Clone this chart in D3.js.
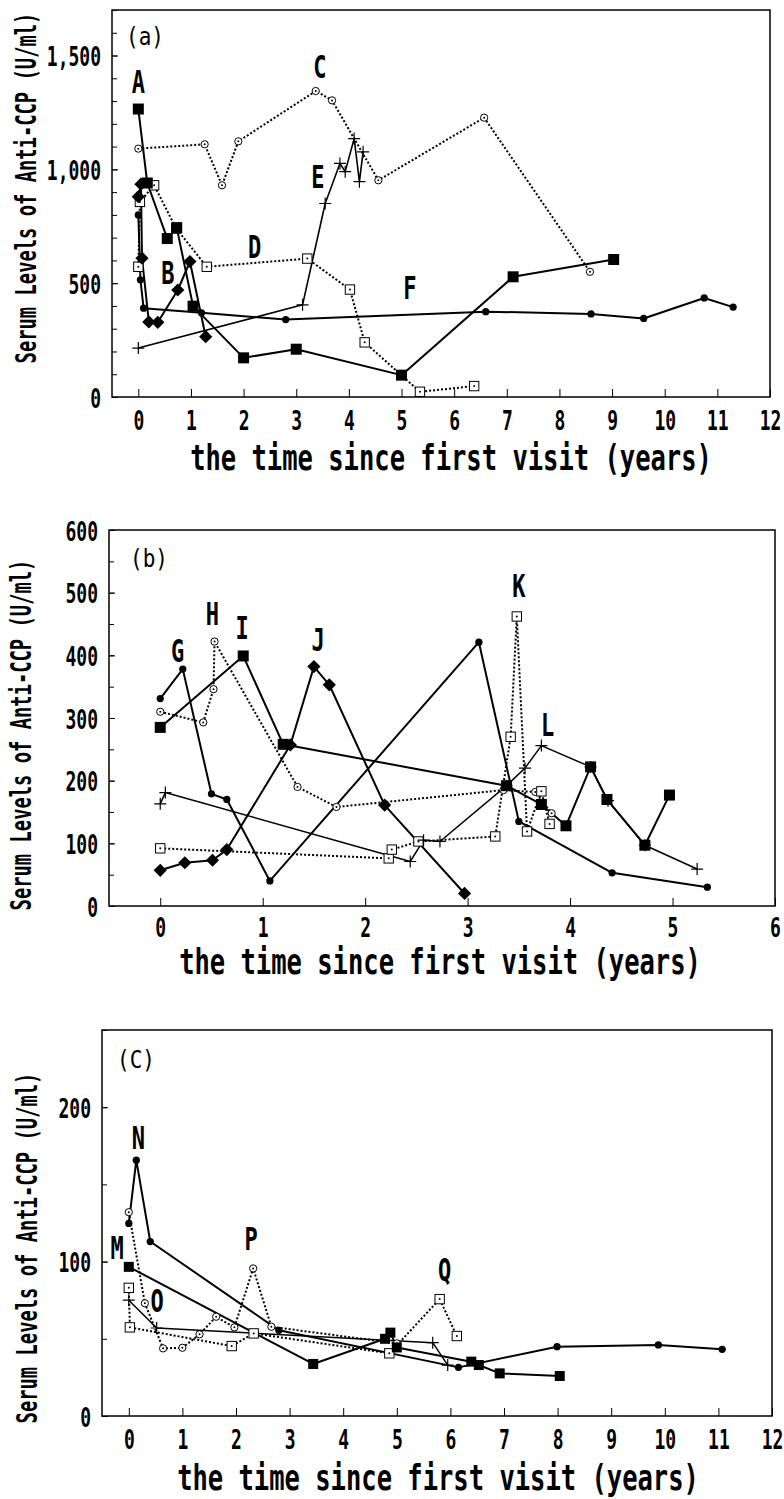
<!DOCTYPE html>
<html>
<head>
<meta charset="utf-8">
<script src="https://cdn.jsdelivr.net/npm/d3@7"></script>
<style>
body { margin: 0; background: #fff; }
</style>
</head>
<body>
<svg id="chart" width="784" height="1499"></svg>
<script>
// ---- panel (a) : [years, U/ml]
const A = [[0,1265],[0.17,940],[0.55,696],[0.73,744],[1.04,399],[2.0,172],[3.0,210],[5.0,96],[7.12,528],[9.03,604]];
const B = [[0,880],[0.05,935],[0.07,610],[0.2,330],[0.37,328],[0.75,470],[0.98,595],[1.28,265]];
const C = [[0,1091],[1.26,1110],[1.59,930],[1.9,1123],[3.37,1344],[3.68,1303],[4.56,952],[6.57,1227],[8.58,550]];
const D = [[0,572],[0.03,857],[0.3,930],[0.72,740],[1.3,572],[3.21,608],[4.02,472],[4.3,240],[5.35,23],[6.38,48]];
const E = [[0,215],[3.12,405],[3.55,850],[3.83,1026],[3.93,990],[4.1,1135],[4.2,946],[4.27,1077]];
const F = [[0,800],[0.04,515],[0.1,390],[1.2,370],[2.8,340],[6.6,375],[8.6,365],[9.6,345],[10.75,435],[11.3,395]];

// ---- panel (b)
const G = [[0,331],[0.22,378],[0.5,179],[0.65,170],[1.07,40],[3.11,421],[3.5,135],[4.41,53],[5.34,30]];
const H = [[0,310],[0.42,293],[0.52,346],[0.53,422],[1.34,190],[1.72,158],[3.35,185],[3.66,182],[3.82,148]];
const I = [[0,285],[0.81,399],[1.2,258],[3.38,192],[3.72,162],[3.96,128],[4.2,222],[4.36,170],[4.73,97],[4.97,177]];
const J = [[0,57],[0.24,69],[0.51,73],[0.65,90],[1.27,257],[1.5,382],[1.65,353],[2.19,161],[2.97,20]];
const K = [[0,92],[2.23,76],[2.26,90],[2.52,103],[3.27,111],[3.42,270],[3.48,462],[3.58,119],[3.72,183],[3.8,131]];
const L = [[0,163],[0.05,181],[2.44,71],[2.57,105],[2.73,103],[3.38,192],[3.56,220],[3.72,256],[4.2,222],[4.37,168],[4.73,97],[5.24,59]];

// ---- panel (c)
const M = [[0,96.6],[3.44,33.7],[4.78,50],[4.88,54],[5.0,44.4],[6.39,35.2],[6.53,33],[6.92,27.6],[8.04,25.9]];
const N = [[0,124.7],[0.14,165.7],[0.4,113],[2.8,55.5],[6.15,31.5],[7.99,44.9],[9.88,46],[11.07,43.2]];
const O = [[0,75],[0.52,57],[5.67,47.5],[5.95,33]];
const P = [[0,132],[0.3,73],[0.64,43.8],[1.0,44.2],[1.32,52.9],[1.63,64.3],[1.97,57.4],[2.32,95.6],[2.66,57.8],[5.0,47]];
const Q = [[0,83],[0.02,57.4],[1.92,45.3],[2.33,53.5],[4.86,40.6],[5.8,75.7],[6.12,51.8]];

// axis ticks
const xTicksLong = [0,1,2,3,4,5,6,7,8,9,10,11,12];
const xTicksShort = [0,1,2,3,4,5,6];
const yTicksA = [0,500,1000,1500];
const yTicksB = [0,100,200,300,400,500,600];
const yTicksC = [0,100,200];

// curve labels [letter, years, U/ml]
const labelsA = [["A",0,1384],["C",3.45,1450],["E",3.41,967],["D",2.21,659],["B",0.56,549],["F",5.16,483]];
const labelsB = [["G",0.17,408],["H",0.51,466],["I",0.8,445],["J",1.54,426],["K",3.5,511],["L",3.78,290]];
const labelsC = [["N",0.18,180.6],["M",-0.22,109.4],["O",0.53,75],["P",2.28,115],["Q",5.89,95]];

const FONT = "'DejaVu Sans Mono', 'Liberation Mono', monospace";
const svg = d3.select("#chart");

function stretched(g, x, y, str, size, sy, anchor, weight, rot) {
	return g.append("text")
		.attr("transform", "translate(" + x + "," + y + ")" + (rot ? " rotate(-90)" : "") + " scale(1," + sy + ")")
		.attr("text-anchor", anchor)
		.attr("font-family", FONT)
		.attr("font-weight", weight)
		.attr("font-size", size)
		.attr("fill", "#000")
		.text(str);
}

function marker(g, type, cx, cy, s) {
	if (type == "square") {
		g.append("rect").attr("x", cx-s/2).attr("y", cy-s/2).attr("width", s).attr("height", s).attr("fill", "#000");
	} else if (type == "diamond") {
		const h = s*0.6;
		g.append("path").attr("d", `M${cx},${cy-h}L${cx+h},${cy}L${cx},${cy+h}L${cx-h},${cy}Z`).attr("fill", "#000");
	} else if (type == "dot") {
		g.append("circle").attr("cx", cx).attr("cy", cy).attr("r", s*0.33).attr("fill", "#000");
	} else if (type == "ocircle") {
		g.append("circle").attr("cx", cx).attr("cy", cy).attr("r", s*0.33).attr("fill", "#fff").attr("stroke", "#000").attr("stroke-width", 1);
		g.append("circle").attr("cx", cx).attr("cy", cy).attr("r", 1).attr("fill", "#000");
	} else if (type == "osquare") {
		const q = s*0.78;
		g.append("rect").attr("x", cx-q/2).attr("y", cy-q/2).attr("width", q).attr("height", q).attr("fill", "#fff").attr("stroke", "#000").attr("stroke-width", 1);
		g.append("circle").attr("cx", cx).attr("cy", cy).attr("r", 1).attr("fill", "#000");
	} else if (type == "plus") {
		const h = s*0.5;
		g.append("path").attr("d", `M${cx-h},${cy}H${cx+h}M${cx},${cy-h}V${cy+h}`).attr("stroke", "#000").attr("stroke-width", 1.2).attr("fill", "none");
	}
}

function drawPanel(cfg) {
	const x = d3.scaleLinear().domain(cfg.xDomain).range([cfg.left, cfg.right]);
	const y = d3.scaleLinear().domain(cfg.yDomain).range([cfg.bottom, cfg.top]);
	const g = svg.append("g");

	// minor y ticks
	g.append("g")
		.attr("transform", "translate(" + cfg.left + ",0)")
		.call(d3.axisLeft(y).tickValues(d3.range(0, cfg.yDomain[1] + 1e-9, cfg.yMinor)).tickSize(-5).tickFormat(""))
		.call(a => a.select(".domain").remove())
		.selectAll("line").attr("stroke-width", 1);

	// y axis with labels
	const ya = g.append("g")
		.attr("transform", "translate(" + cfg.left + ",0)")
		.call(d3.axisLeft(y).tickValues(cfg.yTicks).tickSize(-6).tickFormat(d3.format(",")))
		.call(a => a.select(".domain").remove());
	ya.selectAll("text")
		.attr("x", null).attr("dy", null)
		.attr("transform", "translate(-11,10) scale(1,1.5)")
		.attr("text-anchor", "end")
		.attr("font-family", FONT).attr("font-weight", "bold").attr("font-size", 18);

	// x axis with labels
	const xa = g.append("g")
		.attr("transform", "translate(0," + cfg.bottom + ")")
		.call(d3.axisBottom(x).tickValues(cfg.xTicks).tickSize(-8).tickFormat(d3.format("d")))
		.call(a => a.select(".domain").remove());
	xa.selectAll("text")
		.attr("y", null).attr("dy", null)
		.attr("transform", "translate(0," + cfg.xTickOff + ") scale(1,1.5)")
		.attr("font-family", FONT).attr("font-weight", "bold").attr("font-size", 18);

	// frame
	g.append("rect")
		.attr("x", cfg.left).attr("y", cfg.top)
		.attr("width", cfg.right - cfg.left).attr("height", cfg.bottom - cfg.top)
		.attr("fill", "none").attr("stroke", "#000").attr("stroke-width", 1.5);

	const line = d3.line().x(d => x(d[0])).y(d => y(d[1]));
	cfg.series.forEach(s => {
		g.append("path")
			.attr("d", line(s.data))
			.attr("fill", "none")
			.attr("stroke", "#000")
			.attr("stroke-width", s.width)
			.attr("stroke-dasharray", s.dotted ? "2,2" : null)
			.attr("stroke-linejoin", "round");
	});
	cfg.series.forEach(s => {
		s.data.forEach(d => marker(g, s.marker, x(d[0]), y(d[1]), s.size));
	});

	cfg.labels.forEach(l => {
		stretched(g, x(l[1]), y(l[2]) + 11.5, l[0], 22, 1.45, "middle", "bold");
	});

	stretched(g, cfg.tagX, cfg.tagY, cfg.tag, 21, 1.15, "start", "normal");
	stretched(g, cfg.xTitleX, cfg.xTitleY, "the time since first visit (years)", 25.5, 1.36, "middle", "bold");
	stretched(g, cfg.yTitleX, cfg.yTitleY, "Serum Levels of Anti-CCP (U/ml)", 18.8, 1.55, "middle", "bold", true);
}

drawPanel({
	left: 112, right: 770, top: 10, bottom: 397,
	xDomain: [-0.5, 12], yDomain: [0, 1700],
	xTicks: xTicksLong, yTicks: yTicksA, yMinor: 100, xTickOff: 33,
	tag: "(a)", tagX: 126, tagY: 45,
	xTitleX: 451, xTitleY: 470,
	yTitleX: 36, yTitleY: 188,
	labels: labelsA,
	series: [
		{data: C, marker: "ocircle", dotted: true, width: 2, size: 11},
		{data: D, marker: "osquare", dotted: true, width: 2, size: 12},
		{data: E, marker: "plus", dotted: false, width: 1.6, size: 12},
		{data: F, marker: "dot", dotted: false, width: 2, size: 11},
		{data: B, marker: "diamond", dotted: false, width: 2, size: 11},
		{data: A, marker: "square", dotted: false, width: 2, size: 11}
	]
});

drawPanel({
	left: 109, right: 775, top: 530, bottom: 906,
	xDomain: [-0.5, 6], yDomain: [0, 600],
	xTicks: xTicksShort, yTicks: yTicksB, yMinor: 50, xTickOff: 31,
	tag: "(b)", tagX: 130, tagY: 567,
	xTitleX: 440, xTitleY: 974,
	yTitleX: 31, yTitleY: 735,
	labels: labelsB,
	series: [
		{data: H, marker: "ocircle", dotted: true, width: 2, size: 11},
		{data: K, marker: "osquare", dotted: true, width: 2, size: 12},
		{data: L, marker: "plus", dotted: false, width: 1.5, size: 12},
		{data: G, marker: "dot", dotted: false, width: 2, size: 11},
		{data: J, marker: "diamond", dotted: false, width: 2, size: 11},
		{data: I, marker: "square", dotted: false, width: 2, size: 11}
	]
});

drawPanel({
	left: 102, right: 772, top: 1030, bottom: 1416,
	xDomain: [-0.5, 12], yDomain: [0, 250],
	xTicks: xTicksLong, yTicks: yTicksC, yMinor: 50, xTickOff: 33,
	tag: "(C)", tagX: 117, tagY: 1068,
	xTitleX: 438, xTitleY: 1490,
	yTitleX: 37, yTitleY: 1248,
	labels: labelsC,
	series: [
		{data: P, marker: "ocircle", dotted: true, width: 2, size: 11},
		{data: Q, marker: "osquare", dotted: true, width: 2, size: 12},
		{data: O, marker: "plus", dotted: false, width: 1.5, size: 12},
		{data: N, marker: "dot", dotted: false, width: 2, size: 11},
		{data: M, marker: "square", dotted: false, width: 2, size: 10}
	]
});
</script>
</body>
</html>
